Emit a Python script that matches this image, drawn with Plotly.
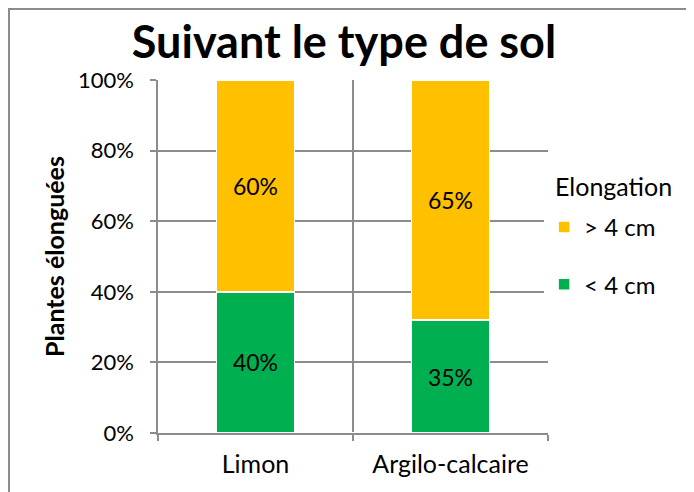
import plotly.graph_objects as go

# data
sols = ['Limon', 'Argilo-calcaire']
moins_4cm = [40, 32]          # bar height (% of plants)
plus_4cm = [60, 68]
moins_4cm_txt = ['40%', '35%']  # labels as printed on the chart
plus_4cm_txt = ['60%', '65%']
y_ticks = [0, 20, 40, 60, 80, 100]
y_ticktext = [str(v) + '%' for v in y_ticks]

FONT = 'Lato'
GRID = '#8c8c8c'

# page body adds 8px around the figure, so the figure is 8px smaller
W, H = 686, 484
L, T, R, B = 150, 72, 146, 59

fig = go.Figure()
fig.add_trace(go.Bar(x=sols, y=moins_4cm, name='< 4 cm', text=moins_4cm_txt,
                     marker=dict(color='#00B050', line=dict(color='white', width=1.5)),
                     legendgroup='a', legendrank=2, textposition='inside', insidetextanchor='middle',
                     textfont=dict(size=23, color='black', family=FONT)))
fig.add_trace(go.Bar(x=sols, y=plus_4cm, name='> 4 cm', text=plus_4cm_txt,
                     marker=dict(color='#FFC000', line=dict(color='white', width=1.5)),
                     legendgroup='b', legendrank=1, textposition='inside', insidetextanchor='middle',
                     textfont=dict(size=23, color='black', family=FONT)))

fig.update_layout(
    width=W, height=H,
    margin=dict(l=L, r=R, t=T, b=B),
    barmode='stack', bargap=0.6,
    plot_bgcolor='white', paper_bgcolor='white',
    font=dict(family=FONT, size=22, color='black'),
    title=dict(text='<b>Suivant le type de sol</b>', x=336 / W, xref='container', xanchor='center',
               y=1 - 34 / H, yref='container', yanchor='middle',
               font=dict(size=45, family=FONT, color='black')),
    legend=dict(traceorder='grouped', tracegroupgap=23, x=0.99, xanchor='left',
                y=0.646, yanchor='top', font=dict(size=24), itemwidth=30),
)
fig.add_annotation(text='Elongation', xref='paper', yref='paper', x=1.0128, y=0.70,
                   xanchor='left', yanchor='middle', showarrow=False, font=dict(size=25))

fig.update_xaxes(tickson='boundaries', showgrid=True, gridcolor=GRID, gridwidth=1.5,
                 showline=True, linecolor=GRID, linewidth=1.5, ticks='outside', ticklen=6,
                 tickcolor=GRID, tickwidth=1.5, range=[-0.5, 1.5], tickfont=dict(size=25),
                 ticklabelstandoff=8)
fig.update_yaxes(range=[0, 100], tickvals=y_ticks, ticktext=y_ticktext, showgrid=True,
                 gridcolor=GRID, gridwidth=1.5, showline=True, linecolor=GRID, linewidth=1.5,
                 ticks='outside', ticklen=6, tickcolor=GRID, tickwidth=1.5,
                 tickfont=dict(size=22), ticklabelstandoff=12,
                 title=dict(text='<b>Plantes élonguées</b>', font=dict(size=25), standoff=6))

# outer chart frame
fig.add_shape(type='rect', xref='paper', yref='paper', x0=(1 - L) / 390, x1=(680 - L) / 390,
              y0=-0.3, y1=(H - B - 1) / 353,
              line=dict(color='#8c8c8c', width=2), fillcolor='rgba(0,0,0,0)', layer='below')

fig.write_html('out.html')
